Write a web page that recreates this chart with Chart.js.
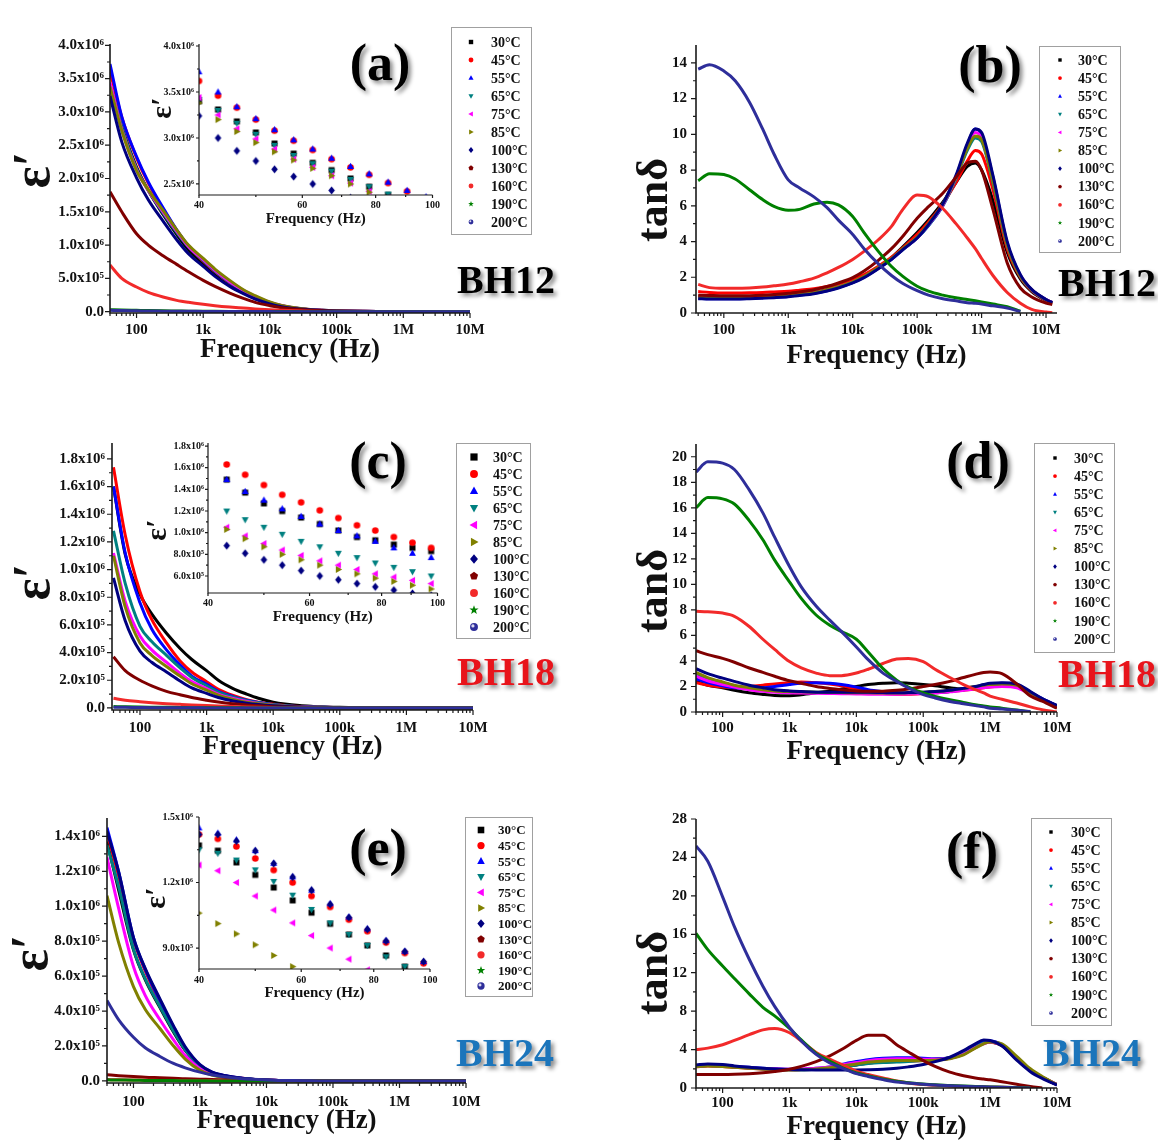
<!DOCTYPE html>
<html><head><meta charset="utf-8">
<script src="https://cdn.jsdelivr.net/npm/chart.js@4.4.1/dist/chart.umd.min.js"></script>
<style>
html,body{margin:0;padding:0;background:#fff;}
#wrap{position:relative;width:1158px;height:1146px;overflow:hidden;background:#fff;font-family:'Liberation Serif','Times New Roman',serif;}
.lbl{position:absolute;transform:translate(-50%,-50%);font-weight:bold;white-space:nowrap;line-height:1;z-index:5;}
canvas{position:absolute;}
</style></head><body><div id="wrap"></div>
<script>
// ---------------- DATA ----------------
const FREQ = [40, 60, 100, 150, 250, 400, 600, 1e3, 1.5e3, 2.5e3, 4e3, 6e3, 1e4, 1.5e4, 2.5e4, 4e4, 6e4, 1e5, 1.5e5, 2.5e5, 4e5, 6e5, 8e5, 1e6, 1.5e6, 2.5e6, 4e6, 6e6, 1e7, 1.25e7];
const FREQ_INSET = [40, 43.1, 46.4, 50, 53.8, 58, 62.5, 67.3, 72.5, 78, 84, 90.5, 97.5];
const TEMPS = ['30°C','45°C','55°C','65°C','75°C','85°C','100°C','130°C','160°C','190°C','200°C'];

const X_TICKS = [100, 1e3, 1e4, 1e5, 1e6, 1e7];
const X_LABELS = ['100','1k','10k','100k','1M','10M'];
const XI_TICKS = [40, 60, 80, 100];
const XI_LABELS = ['40','60','80','100'];
const XI_MINOR = [50, 70, 90];

const A_Y_TICKS = [0, 0.5, 1, 1.5, 2, 2.5, 3, 3.5, 4];
const A_Y_LABELS = ['0.0','5.0x10⁵','1.0x10⁶','1.5x10⁶','2.0x10⁶','2.5x10⁶','3.0x10⁶','3.5x10⁶','4.0x10⁶'];
const B_Y_TICKS = [0, 2, 4, 6, 8, 10, 12, 14];
const B_Y_LABELS = ['0','2','4','6','8','10','12','14'];
const C_Y_TICKS = [0, 0.2, 0.4, 0.6, 0.8, 1.0, 1.2, 1.4, 1.6, 1.8];
const C_Y_LABELS = ['0.0','2.0x10⁵','4.0x10⁵','6.0x10⁵','8.0x10⁵','1.0x10⁶','1.2x10⁶','1.4x10⁶','1.6x10⁶','1.8x10⁶'];
const D_Y_TICKS = [0, 2, 4, 6, 8, 10, 12, 14, 16, 18, 20];
const D_Y_LABELS = ['0','2','4','6','8','10','12','14','16','18','20'];
const E_Y_TICKS = [0, 0.2, 0.4, 0.6, 0.8, 1.0, 1.2, 1.4];
const E_Y_LABELS = ['0.0','2.0x10⁵','4.0x10⁵','6.0x10⁵','8.0x10⁵','1.0x10⁶','1.2x10⁶','1.4x10⁶'];
const F_Y_TICKS = [0, 4, 8, 12, 16, 20, 24, 28];
const F_Y_LABELS = ['0','4','8','12','16','20','24','28'];
const AI_Y_TICKS = [2.5, 3.0, 3.5, 4.0];
const AI_Y_LABELS = ['2.5x10⁶','3.0x10⁶','3.5x10⁶','4.0x10⁶'];
const CI_Y_TICKS = [0.6, 0.8, 1.0, 1.2, 1.4, 1.6, 1.8];
const CI_Y_LABELS = ['6.0x10⁵','8.0x10⁵','1.0x10⁶','1.2x10⁶','1.4x10⁶','1.6x10⁶','1.8x10⁶'];
const EI_Y_TICKS = [0.9, 1.2, 1.5];
const EI_Y_LABELS = ['9.0x10⁵','1.2x10⁶','1.5x10⁶'];

// (a) BH12 epsilon' (units of 10^6), rows follow TEMPS, columns follow FREQ
const A_EPS = [
 [3.40, 2.78, 2.17, 1.82, 1.46, 1.16, 0.93, 0.72, 0.56, 0.40, 0.28, 0.20, 0.12, 0.08, 0.045, 0.028, 0.018, 0.011, 0.007, 0.004, 0.003, 0.002, 0.002, 0.001, 0.001, 0.001, 0, 0, 0, 0],
 [3.62, 2.92, 2.31, 1.93, 1.54, 1.22, 0.98, 0.76, 0.60, 0.43, 0.30, 0.21, 0.13, 0.085, 0.05, 0.03, 0.02, 0.012, 0.008, 0.005, 0.003, 0.002, 0.002, 0.001, 0.001, 0.001, 0, 0, 0, 0],
 [3.72, 2.93, 2.33, 1.95, 1.56, 1.23, 0.99, 0.77, 0.61, 0.44, 0.31, 0.22, 0.135, 0.09, 0.05, 0.03, 0.02, 0.012, 0.008, 0.005, 0.003, 0.002, 0.002, 0.001, 0.001, 0.001, 0, 0, 0, 0],
 [3.42, 2.77, 2.15, 1.82, 1.48, 1.19, 0.97, 0.77, 0.61, 0.44, 0.31, 0.22, 0.135, 0.09, 0.05, 0.03, 0.02, 0.012, 0.008, 0.005, 0.003, 0.002, 0.002, 0.001, 0.001, 0.001, 0, 0, 0, 0],
 [3.44, 2.73, 2.13, 1.82, 1.50, 1.21, 0.98, 0.78, 0.62, 0.45, 0.32, 0.23, 0.14, 0.092, 0.052, 0.031, 0.02, 0.012, 0.008, 0.005, 0.003, 0.002, 0.002, 0.001, 0.001, 0.001, 0, 0, 0, 0],
 [3.38, 2.72, 2.12, 1.83, 1.52, 1.23, 1.00, 0.80, 0.64, 0.47, 0.33, 0.24, 0.145, 0.095, 0.055, 0.033, 0.021, 0.013, 0.008, 0.005, 0.003, 0.002, 0.002, 0.001, 0.001, 0.001, 0, 0, 0, 0],
 [3.24, 2.55, 2.01, 1.68, 1.36, 1.08, 0.87, 0.68, 0.53, 0.38, 0.27, 0.19, 0.115, 0.075, 0.045, 0.027, 0.017, 0.01, 0.007, 0.004, 0.003, 0.002, 0.002, 0.001, 0.001, 0.001, 0, 0, 0, 0],
 [1.80, 1.50, 1.17, 1.00, 0.84, 0.71, 0.60, 0.47, 0.38, 0.28, 0.20, 0.14, 0.09, 0.06, 0.035, 0.02, 0.012, 0.007, 0.005, 0.003, 0.002, 0.001, 0.001, 0.001, 0, 0, 0, 0, 0, 0],
 [0.70, 0.50, 0.37, 0.29, 0.22, 0.17, 0.14, 0.11, 0.09, 0.07, 0.055, 0.042, 0.028, 0.02, 0.012, 0.007, 0.004, 0.002, 0.001, 0.001, 0, 0, 0, 0, 0, 0, 0, 0, 0, 0],
 [0.03, 0.025, 0.02, 0.016, 0.012, 0.01, 0.008, 0.006, 0.005, 0.004, 0.003, 0.002, 0.002, 0.001, 0.001, 0, 0, 0, 0, 0, 0, 0, 0, 0, 0, 0, 0, 0, 0, 0],
 [0.02, 0.016, 0.013, 0.01, 0.008, 0.006, 0.005, 0.004, 0.003, 0.002, 0.002, 0.001, 0.001, 0, 0, 0, 0, 0, 0, 0, 0, 0, 0, 0, 0, 0, 0, 0, 0, 0]
];
// (a) inset, columns follow FREQ_INSET
const A_INSET = [
 [3.40, 3.31, 3.18, 3.06, 2.94, 2.83, 2.73, 2.65, 2.56, 2.47, 2.38, 2.29, 2.20],
 [3.62, 3.46, 3.33, 3.20, 3.08, 2.97, 2.87, 2.77, 2.68, 2.60, 2.51, 2.42, 2.34],
 [3.72, 3.50, 3.34, 3.21, 3.09, 2.98, 2.88, 2.78, 2.69, 2.61, 2.52, 2.43, 2.36],
 [3.42, 3.30, 3.16, 3.04, 2.92, 2.81, 2.72, 2.64, 2.55, 2.47, 2.39, 2.30, 2.22],
 [3.44, 3.25, 3.10, 2.99, 2.88, 2.77, 2.68, 2.59, 2.51, 2.42, 2.35, 2.27, 2.19],
 [3.38, 3.20, 3.07, 2.95, 2.85, 2.76, 2.67, 2.59, 2.50, 2.41, 2.34, 2.26, 2.18],
 [3.24, 3.00, 2.86, 2.75, 2.66, 2.58, 2.50, 2.43, 2.35, 2.28, 2.20, 2.13, 2.06],
 [], [], [], []
];
// (b) BH12 tan delta
const B_TAN = [
 [0.9, 0.88, 0.87, 0.87, 0.88, 0.9, 0.93, 0.98, 1.05, 1.15, 1.3, 1.48, 1.75, 2.05, 2.55, 3.1, 3.7, 4.5, 5.2, 6.2, 7.3, 8.2, 8.4, 8.0, 6.3, 3.4, 1.9, 1.2, 0.7, 0.55],
 [1.2, 1.15, 1.12, 1.12, 1.13, 1.15, 1.18, 1.22, 1.28, 1.36, 1.48, 1.62, 1.88, 2.15, 2.62, 3.12, 3.65, 4.4, 5.1, 6.1, 7.3, 8.5, 9.1, 8.9, 6.9, 3.6, 2.0, 1.25, 0.72, 0.56],
 [0.82, 0.8, 0.8, 0.8, 0.82, 0.85, 0.88, 0.93, 1.0, 1.1, 1.25, 1.42, 1.7, 2.0, 2.5, 3.0, 3.55, 4.2, 4.9, 6.0, 7.6, 9.4, 10.3, 10.0, 7.6, 3.9, 2.1, 1.3, 0.75, 0.58],
 [0.85, 0.82, 0.82, 0.82, 0.84, 0.87, 0.9, 0.95, 1.02, 1.12, 1.27, 1.45, 1.72, 2.02, 2.52, 3.02, 3.55, 4.2, 4.9, 6.0, 7.5, 9.1, 9.8, 9.6, 7.3, 3.8, 2.05, 1.28, 0.74, 0.57],
 [0.85, 0.83, 0.83, 0.83, 0.85, 0.88, 0.91, 0.96, 1.03, 1.13, 1.28, 1.46, 1.73, 2.03, 2.53, 3.03, 3.57, 4.22, 4.95, 6.05, 7.6, 9.3, 10.1, 9.8, 7.5, 3.85, 2.08, 1.3, 0.75, 0.58],
 [0.86, 0.84, 0.84, 0.84, 0.86, 0.89, 0.92, 0.97, 1.04, 1.14, 1.29, 1.47, 1.74, 2.05, 2.55, 3.05, 3.6, 4.25, 5.0, 6.1, 7.6, 9.2, 9.9, 9.7, 7.4, 3.8, 2.05, 1.3, 0.74, 0.57],
 [0.8, 0.78, 0.78, 0.78, 0.8, 0.83, 0.86, 0.91, 0.98, 1.08, 1.23, 1.4, 1.68, 1.98, 2.48, 3.0, 3.55, 4.2, 4.95, 6.1, 7.7, 9.5, 10.3, 10.1, 7.7, 4.0, 2.15, 1.32, 0.76, 0.58],
 [1.0, 0.98, 0.96, 0.96, 0.97, 1.0, 1.04, 1.1, 1.18, 1.3, 1.48, 1.68, 1.98, 2.35, 2.95, 3.6, 4.3, 5.3, 5.95, 6.7, 7.6, 8.4, 8.5, 8.0, 5.8, 2.8, 1.4, 0.9, 0.56, 0.47],
 [1.6, 1.42, 1.38, 1.38, 1.4, 1.45, 1.52, 1.62, 1.75, 1.95, 2.25, 2.55, 3.0, 3.45, 4.1, 4.85, 5.8, 6.6, 6.5, 5.85, 5.0, 4.2, 3.6, 3.05, 2.1, 1.15, 0.55, 0.2, 0.05, 0.02],
 [7.4, 7.8, 7.75, 7.5, 6.9, 6.35, 5.97, 5.75, 5.8, 6.1, 6.2, 6.05, 5.4, 4.5, 3.45, 2.6, 2.05, 1.5, 1.22, 1.0, 0.85, 0.75, 0.68, 0.62, 0.5, 0.35, 0.1, null, null, null],
 [13.65, 13.9, 13.55, 13.0, 11.8, 10.3, 8.9, 7.45, 7.0, 6.5, 5.9, 5.2, 4.4, 3.6, 2.75, 2.1, 1.65, 1.25, 1.0, 0.8, 0.68, 0.58, 0.54, 0.5, 0.4, 0.28, 0.08, null, null, null]
];
// (c) BH18 epsilon' (10^6)
const C_EPS = [
 [1.60, 1.11, 0.82, 0.68, 0.54, 0.43, 0.35, 0.27, 0.20, 0.14, 0.10, 0.07, 0.042, 0.028, 0.017, 0.011, 0.007, 0.004, 0.003, 0.002, 0.001, 0.001, 0.001, 0, 0, 0, 0, 0, 0, 0],
 [1.74, 1.25, 0.84, 0.64, 0.47, 0.34, 0.26, 0.19, 0.135, 0.09, 0.06, 0.042, 0.027, 0.017, 0.01, 0.006, 0.004, 0.003, 0.002, 0.001, 0.001, 0, 0, 0, 0, 0, 0, 0, 0, 0],
 [1.60, 1.12, 0.76, 0.57, 0.42, 0.31, 0.23, 0.17, 0.12, 0.082, 0.056, 0.039, 0.025, 0.016, 0.01, 0.006, 0.004, 0.003, 0.002, 0.001, 0.001, 0, 0, 0, 0, 0, 0, 0, 0, 0],
 [1.28, 0.90, 0.59, 0.48, 0.38, 0.29, 0.22, 0.16, 0.115, 0.078, 0.053, 0.037, 0.023, 0.015, 0.009, 0.006, 0.004, 0.002, 0.002, 0.001, 0.001, 0, 0, 0, 0, 0, 0, 0, 0, 0],
 [1.12, 0.77, 0.52, 0.42, 0.33, 0.25, 0.19, 0.14, 0.10, 0.068, 0.046, 0.032, 0.02, 0.013, 0.008, 0.005, 0.003, 0.002, 0.001, 0.001, 0, 0, 0, 0, 0, 0, 0, 0, 0, 0],
 [1.10, 0.73, 0.47, 0.38, 0.30, 0.23, 0.175, 0.128, 0.092, 0.062, 0.042, 0.03, 0.019, 0.012, 0.007, 0.005, 0.003, 0.002, 0.001, 0.001, 0, 0, 0, 0, 0, 0, 0, 0, 0, 0],
 [0.94, 0.63, 0.41, 0.33, 0.26, 0.195, 0.145, 0.105, 0.075, 0.05, 0.034, 0.024, 0.015, 0.01, 0.006, 0.004, 0.002, 0.001, 0.001, 0, 0, 0, 0, 0, 0, 0, 0, 0, 0, 0],
 [0.37, 0.27, 0.20, 0.16, 0.12, 0.095, 0.075, 0.056, 0.043, 0.03, 0.021, 0.015, 0.009, 0.006, 0.004, 0.002, 0.001, 0.001, 0, 0, 0, 0, 0, 0, 0, 0, 0, 0, 0, 0],
 [0.07, 0.055, 0.045, 0.038, 0.031, 0.026, 0.022, 0.018, 0.014, 0.01, 0.007, 0.005, 0.003, 0.002, 0.001, 0.001, 0, 0, 0, 0, 0, 0, 0, 0, 0, 0, 0, 0, 0, 0],
 [0.01, 0.008, 0.006, 0.005, 0.004, 0.003, 0.002, 0.002, 0.001, 0.001, 0, 0, 0, 0, 0, 0, 0, 0, 0, 0, 0, 0, 0, 0, 0, 0, 0, 0, 0, 0],
 [0.005, 0.004, 0.003, 0.002, 0.002, 0.001, 0.001, 0, 0, 0, 0, 0, 0, 0, 0, 0, 0, 0, 0, 0, 0, 0, 0, 0, 0, 0, 0, 0, 0, 0]
];
const C_INSET = [
 [null, 1.49, 1.37, 1.27, 1.20, 1.14, 1.08, 1.02, 0.96, 0.93, 0.89, 0.86, 0.83],
 [null, 1.63, 1.535, 1.44, 1.35, 1.28, 1.206, 1.135, 1.068, 1.02, 0.96, 0.908, 0.86],
 [null, 1.49, 1.38, 1.30, 1.22, 1.15, 1.08, 1.02, 0.97, 0.92, 0.86, 0.81, 0.77],
 [null, 1.20, 1.12, 1.05, 0.985, 0.92, 0.87, 0.81, 0.77, 0.72, 0.68, 0.64, 0.60],
 [null, 1.05, 0.97, 0.90, 0.84, 0.79, 0.74, 0.70, 0.66, 0.62, 0.59, 0.56, 0.53],
 [null, 1.03, 0.945, 0.87, 0.80, 0.75, 0.70, 0.66, 0.62, 0.58, 0.55, 0.515, 0.48],
 [null, 0.88, 0.81, 0.75, 0.70, 0.65, 0.60, 0.565, 0.53, 0.50, 0.47, 0.44, 0.42],
 [], [], [], []
];
// (d) BH18 tan delta
const D_TAN = [
 [2.4, 2.1, 1.9, 1.7, 1.5, 1.38, 1.3, 1.28, 1.35, 1.5, 1.65, 1.8, 2.0, 2.15, 2.25, 2.3, 2.25, 2.15, 2.05, 1.9, 1.8, 1.85, 1.95, 2.05, 2.2, 2.1, 1.5, 1.0, 0.5, null],
 [2.3, 2.1, 1.95, 1.9, 2.0, 2.1, 2.2, 2.3, 2.35, 2.3, 2.2, 2.05, 1.8, 1.6, 1.45, 1.4, 1.4, 1.45, 1.5, 1.6, 1.7, 1.8, 1.9, 1.95, 2.05, 1.95, 1.45, 1.0, 0.45, null],
 [2.6, 2.3, 2.05, 1.9, 1.85, 1.9, 2.0, 2.15, 2.25, 2.3, 2.25, 2.15, 1.95, 1.75, 1.6, 1.5, 1.45, 1.45, 1.5, 1.6, 1.75, 1.9, 2.0, 2.1, 2.25, 2.15, 1.55, 1.05, 0.5, null],
 [3.0, 2.6, 2.25, 2.0, 1.8, 1.65, 1.6, 1.55, 1.55, 1.55, 1.5, 1.5, 1.5, 1.48, 1.45, 1.45, 1.45, 1.48, 1.52, 1.6, 1.75, 1.9, 2.0, 2.1, 2.2, 2.1, 1.5, 1.0, 0.45, null],
 [2.8, 2.45, 2.15, 1.95, 1.75, 1.62, 1.55, 1.5, 1.48, 1.47, 1.45, 1.43, 1.42, 1.4, 1.4, 1.4, 1.42, 1.45, 1.5, 1.58, 1.7, 1.82, 1.9, 1.95, 2.0, 1.9, 1.4, 0.95, 0.45, null],
 [3.1, 2.7, 2.35, 2.1, 1.9, 1.75, 1.65, 1.6, 1.58, 1.55, 1.53, 1.52, 1.5, 1.5, 1.48, 1.48, 1.5, 1.55, 1.6, 1.7, 1.85, 2.0, 2.1, 2.15, 2.2, 2.1, 1.5, 1.0, 0.45, null],
 [3.4, 3.0, 2.65, 2.4, 2.1, 1.9, 1.75, 1.65, 1.6, 1.55, 1.55, 1.55, 1.55, 1.55, 1.52, 1.5, 1.52, 1.55, 1.6, 1.7, 1.85, 2.0, 2.15, 2.25, 2.3, 2.2, 1.6, 1.05, 0.5, null],
 [4.8, 4.5, 4.2, 3.9, 3.45, 3.1, 2.8, 2.45, 2.25, 2.0, 1.85, 1.75, 1.65, 1.62, 1.63, 1.7, 1.8, 2.0, 2.15, 2.4, 2.7, 2.95, 3.1, 3.13, 3.0, 2.2, 1.25, 0.85, 0.3, null],
 [7.9, 7.85, 7.75, 7.5, 6.7, 5.7, 4.9, 3.95, 3.45, 3.05, 2.85, 2.85, 3.05, 3.35, 3.8, 4.15, 4.2, 3.95, 3.35, 2.7, 2.15, 1.75, 1.5, 1.25, 1.0, 0.7, 0.4, 0.18, 0.0, null],
 [16.0, 16.8, 16.7, 16.3, 15.0, 13.5, 11.9, 10.2, 8.9, 7.6, 6.8, 6.3, 5.7, 4.7, 3.4, 2.5, 1.95, 1.5, 1.22, 0.96, 0.75, 0.57, 0.47, 0.4, 0.3, 0.15, 0.03, null, null, null],
 [18.8, 19.6, 19.5, 19.0, 17.4, 15.6, 13.7, 11.4, 9.8, 8.3, 7.2, 6.3, 5.1, 4.1, 3.05, 2.4, 1.88, 1.36, 1.1, 0.83, 0.65, 0.5, 0.4, 0.3, 0.23, 0.13, 0.03, null, null, null]
];
// (e) BH24 epsilon' (10^6)
const E_EPS = [
 [1.37, 1.09, 0.75, 0.58, 0.42, 0.28, 0.175, 0.083, 0.046, 0.026, 0.015, 0.009, 0.005, 0.003, 0.002, 0.001, 0.001, 0, 0, 0, 0, 0, 0, 0, 0, 0, 0, 0, 0, 0],
 [1.42, 1.17, 0.81, 0.63, 0.45, 0.30, 0.185, 0.088, 0.049, 0.027, 0.016, 0.01, 0.005, 0.003, 0.002, 0.001, 0.001, 0, 0, 0, 0, 0, 0, 0, 0, 0, 0, 0, 0, 0],
 [1.45, 1.195, 0.82, 0.64, 0.46, 0.31, 0.19, 0.09, 0.05, 0.028, 0.016, 0.01, 0.005, 0.003, 0.002, 0.001, 0.001, 0, 0, 0, 0, 0, 0, 0, 0, 0, 0, 0, 0, 0],
 [1.35, 1.11, 0.755, 0.585, 0.425, 0.285, 0.178, 0.085, 0.047, 0.026, 0.015, 0.009, 0.005, 0.003, 0.002, 0.001, 0.001, 0, 0, 0, 0, 0, 0, 0, 0, 0, 0, 0, 0, 0],
 [1.28, 0.986, 0.655, 0.49, 0.35, 0.235, 0.145, 0.07, 0.04, 0.022, 0.013, 0.008, 0.004, 0.003, 0.002, 0.001, 0, 0, 0, 0, 0, 0, 0, 0, 0, 0, 0, 0, 0, 0],
 [1.06, 0.79, 0.54, 0.41, 0.30, 0.20, 0.125, 0.06, 0.034, 0.019, 0.011, 0.007, 0.004, 0.002, 0.001, 0.001, 0, 0, 0, 0, 0, 0, 0, 0, 0, 0, 0, 0, 0, 0],
 [1.43, 1.195, 0.82, 0.645, 0.47, 0.315, 0.195, 0.093, 0.052, 0.029, 0.017, 0.01, 0.005, 0.003, 0.002, 0.001, 0.001, 0, 0, 0, 0, 0, 0, 0, 0, 0, 0, 0, 0, 0],
 [0.035, 0.03, 0.025, 0.021, 0.018, 0.015, 0.012, 0.01, 0.008, 0.006, 0.004, 0.003, 0.002, 0.001, 0.001, 0, 0, 0, 0, 0, 0, 0, 0, 0, 0, 0, 0, 0, 0, 0],
 [0.008, 0.006, 0.005, 0.004, 0.003, 0.002, 0.002, 0.001, 0.001, 0, 0, 0, 0, 0, 0, 0, 0, 0, 0, 0, 0, 0, 0, 0, 0, 0, 0, 0, 0, 0],
 [0.006, 0.005, 0.004, 0.003, 0.002, 0.002, 0.001, 0.001, 0, 0, 0, 0, 0, 0, 0, 0, 0, 0, 0, 0, 0, 0, 0, 0, 0, 0, 0, 0, 0, 0],
 [0.46, 0.35, 0.25, 0.19, 0.14, 0.10, 0.075, 0.05, 0.035, 0.022, 0.014, 0.009, 0.005, 0.003, 0.002, 0.001, 0, 0, 0, 0, 0, 0, 0, 0, 0, 0, 0, 0, 0, 0]
];
const E_INSET = [
 [1.37, 1.346, 1.292, 1.235, 1.177, 1.118, 1.062, 1.011, 0.962, 0.912, 0.866, 0.815, 0.77],
 [1.42, 1.40, 1.365, 1.31, 1.257, 1.20, 1.138, 1.088, 1.03, 0.977, 0.925, 0.877, 0.83],
 [1.45, 1.426, 1.395, 1.346, 1.288, 1.226, 1.165, 1.103, 1.042, 0.988, 0.934, 0.885, 0.838],
 [1.35, 1.334, 1.303, 1.258, 1.205, 1.142, 1.077, 1.015, 0.962, 0.912, 0.86, 0.815, 0.77],
 [1.28, 1.254, 1.20, 1.138, 1.074, 1.015, 0.957, 0.90, 0.849, 0.80, 0.755, 0.712, 0.67],
 [1.06, 1.012, 0.965, 0.915, 0.866, 0.815, 0.77, 0.73, 0.69, 0.65, 0.615, 0.58, 0.55],
 [1.42, 1.42, 1.39, 1.345, 1.287, 1.225, 1.165, 1.10, 1.04, 0.986, 0.932, 0.884, 0.838],
 [], [], [], []
];
// (f) BH24 tan delta
const F_TAN = [
 [2.3, 2.35, 2.3, 2.2, 2.1, 2.0, 1.95, 1.9, 1.9, 1.95, 2.05, 2.2, 2.4, 2.6, 2.75, 2.85, 2.9, 2.95, 3.0, 3.15, 3.6, 4.3, 4.75, 4.8, 4.4, 3.0, 1.8, 1.1, 0.35, null],
 [2.2, 2.3, 2.25, 2.15, 2.05, 1.98, 1.92, 1.9, 1.92, 2.0, 2.1, 2.25, 2.45, 2.6, 2.7, 2.75, 2.8, 2.85, 2.95, 3.1, 3.55, 4.2, 4.65, 4.75, 4.45, 3.1, 1.85, 1.1, 0.35, null],
 [2.3, 2.4, 2.35, 2.25, 2.15, 2.05, 2.0, 1.95, 1.95, 2.05, 2.2, 2.45, 2.75, 2.95, 3.1, 3.15, 3.15, 3.1, 3.05, 3.15, 3.6, 4.3, 4.8, 4.9, 4.5, 3.1, 1.85, 1.1, 0.35, null],
 [2.25, 2.35, 2.3, 2.2, 2.1, 2.0, 1.95, 1.9, 1.9, 1.95, 2.05, 2.2, 2.4, 2.55, 2.65, 2.7, 2.75, 2.85, 2.95, 3.1, 3.55, 4.25, 4.7, 4.8, 4.5, 3.1, 1.85, 1.1, 0.35, null],
 [2.3, 2.35, 2.3, 2.2, 2.1, 2.02, 1.98, 1.95, 1.98, 2.05, 2.2, 2.4, 2.65, 2.85, 3.0, 3.05, 3.05, 3.0, 3.0, 3.1, 3.5, 4.2, 4.6, 4.75, 4.5, 3.2, 1.9, 1.15, 0.35, null],
 [2.25, 2.3, 2.25, 2.15, 2.05, 1.98, 1.93, 1.9, 1.92, 1.98, 2.1, 2.3, 2.5, 2.7, 2.8, 2.85, 2.85, 2.85, 2.9, 3.05, 3.45, 4.15, 4.6, 4.8, 4.6, 3.3, 2.0, 1.2, 0.35, null],
 [2.4, 2.5, 2.45, 2.3, 2.15, 2.05, 1.98, 1.92, 1.9, 1.88, 1.87, 1.87, 1.88, 1.9, 1.95, 2.05, 2.2, 2.45, 2.75, 3.2, 3.9, 4.6, 5.0, 4.95, 4.4, 2.9, 1.7, 1.0, 0.3, null],
 [1.4, 1.4, 1.4, 1.42, 1.48, 1.58, 1.72, 1.95, 2.25, 2.75, 3.35, 4.0, 4.95, 5.5, 5.5, 4.5, 3.75, 2.85, 2.25, 1.65, 1.28, 1.05, 0.93, 0.85, 0.65, 0.4, 0.15, 0.0, null, null],
 [4.0, 4.15, 4.5, 4.95, 5.55, 6.05, 6.2, 5.75, 4.9, 3.7, 3.0, 2.45, 1.75, 1.4, 1.05, 0.72, 0.53, 0.36, 0.28, 0.2, 0.15, 0.12, 0.1, 0.09, 0.07, 0.03, 0, null, null, null],
 [16.1, 14.4, 12.7, 11.4, 9.8, 8.4, 7.5, 6.2, 5.0, 3.6, 2.8, 2.15, 1.56, 1.28, 0.94, 0.7, 0.55, 0.42, 0.34, 0.27, 0.2, 0.16, 0.13, 0.11, 0.08, 0.04, 0.0, null, null, null],
 [25.2, 23.6, 19.9, 16.8, 13.4, 10.6, 8.5, 6.3, 4.9, 3.5, 2.6, 2.1, 1.5, 1.2, 0.87, 0.62, 0.52, 0.38, 0.3, 0.24, 0.18, 0.14, 0.12, 0.1, 0.07, 0.03, 0.0, null, null, null]
];

// ---------------- STYLES ----------------
const COLORS = ['#000000','#ff0000','#0000ff','#008080','#ff00ff','#808000','#000080','#800000','#f22a2a','#008000','#2e2e9a'];
const MARKERS = [['rect',0],['circle',0],['triangle',0],['triangle',180],['triangle',270],['triangle',90],['diamond',0],['pentagon',0],['circle',0],['star',0],['half',0]];
const FONT = "'Liberation Serif','Times New Roman',serif";

function drawMarker(ctx, style, rot, r, x, y, color) {
  ctx.save();
  ctx.translate(x, y);
  ctx.rotate(rot * Math.PI / 180);
  ctx.fillStyle = color;
  ctx.beginPath();
  if (style === 'rect') { ctx.rect(-r, -r, 2 * r, 2 * r); }
  else if (style === 'circle' || style === 'half') { ctx.arc(0, 0, r * 1.1, 0, Math.PI * 2); }
  else if (style === 'triangle') { ctx.moveTo(0, -r * 1.25); ctx.lineTo(r * 1.15, r * 0.85); ctx.lineTo(-r * 1.15, r * 0.85); ctx.closePath(); }
  else if (style === 'diamond') { ctx.moveTo(0, -r * 1.35); ctx.lineTo(r * 1.1, 0); ctx.lineTo(0, r * 1.35); ctx.lineTo(-r * 1.1, 0); ctx.closePath(); }
  else if (style === 'pentagon') { for (let k = 0; k < 5; k++) { const a = -Math.PI / 2 + k * 2 * Math.PI / 5; const px = Math.cos(a) * r * 1.2, py = Math.sin(a) * r * 1.2; if (k) ctx.lineTo(px, py); else ctx.moveTo(px, py); } ctx.closePath(); }
  else if (style === 'star') { for (let k = 0; k < 10; k++) { const a = -Math.PI / 2 + k * Math.PI / 5; const rr = (k % 2 ? 0.55 : 1.35) * r; const px = Math.cos(a) * rr, py = Math.sin(a) * rr; if (k) ctx.lineTo(px, py); else ctx.moveTo(px, py); } ctx.closePath(); }
  ctx.fill();
  if (style === 'half') { ctx.fillStyle = '#d8d8f0'; ctx.beginPath(); ctx.arc(-r * 0.3, -r * 0.3, r * 0.45, 0, Math.PI * 2); ctx.fill(); }
  ctx.restore();
}
function markerCanvas(i, r) {
  const s = Math.ceil(r * 3 + 4);
  const c = document.createElement('canvas');
  c.width = s; c.height = s;
  drawMarker(c.getContext('2d'), MARKERS[i][0], MARKERS[i][1], r, s / 2, s / 2, COLORS[i]);
  return c;
}

function axesPlugin(cfg, bx, by) {
  return {
    id: 'originAxes',
    afterDatasetsDraw(chart) {
      const {ctx, chartArea: a} = chart;
      const xs = chart.scales.x, ys = chart.scales.y;
      ctx.save();
      ctx.strokeStyle = '#1a1a1a';
      ctx.lineWidth = cfg.axw || 1.6;
      ctx.beginPath();
      ctx.moveTo(a.left, a.top); ctx.lineTo(a.left, a.bottom); ctx.lineTo(a.right, a.bottom);
      ctx.stroke();
      ctx.lineWidth = 1.2;
      ctx.beginPath();
      const L = cfg.tl || 5, ML = cfg.mtl || 3;
      const xt = (v, len) => { const p = xs.getPixelForValue(v); if (p >= a.left - 0.5 && p <= a.right + 0.5) { ctx.moveTo(p, a.bottom); ctx.lineTo(p, a.bottom + len); } };
      const yt = (v, len) => { const p = ys.getPixelForValue(v); if (p >= a.top - 0.5 && p <= a.bottom + 0.5) { ctx.moveTo(a.left, p); ctx.lineTo(a.left - len, p); } };
      cfg.xTicks.forEach(v => xt(v, L));
      cfg.xMinor.forEach(v => xt(v, ML));
      cfg.yTicks.forEach(v => yt(v, L));
      for (let k = 0; k < cfg.yTicks.length - 1; k++) yt((cfg.yTicks[k] + cfg.yTicks[k + 1]) / 2, ML);
      ctx.stroke();
      // y axis title (rotated)
      ctx.translate(cfg.yTitleX - bx, cfg.yTitleY - by);
      ctx.rotate(-Math.PI / 2);
      ctx.fillStyle = '#111';
      ctx.font = 'bold ' + cfg.yTitleSize + 'px ' + FONT;
      ctx.textAlign = 'center'; ctx.textBaseline = 'middle';
      ctx.fillText(cfg.yTitle, 0, 0);
      ctx.restore();
    }
  };
}
function legendPlugin(lg, bx, by) {
  return {
    id: 'boxLegend',
    afterDraw(chart) {
      const ctx = chart.ctx;
      ctx.save();
      ctx.fillStyle = '#fff';
      ctx.fillRect(lg.x - bx, lg.y - by, lg.w, lg.h);
      ctx.strokeStyle = '#a0a0a0'; ctx.lineWidth = 1;
      ctx.strokeRect(lg.x - bx + 0.5, lg.y - by + 0.5, lg.w, lg.h);
      ctx.font = 'bold ' + lg.font + 'px ' + FONT;
      ctx.textBaseline = 'middle'; ctx.textAlign = 'left';
      chart.data.datasets.forEach((ds, i) => {
        const cy = lg.y0 - by + i * lg.dy;
        drawMarker(ctx, MARKERS[i][0], MARKERS[i][1], lg.r, lg.mx - bx, cy, COLORS[i]);
        ctx.fillStyle = '#111';
        ctx.fillText(ds.label, lg.tx - bx, cy + 1);
      });
      ctx.restore();
    }
  };
}

function minorLog(min, max) {
  const out = [];
  for (let e = 1; e <= 7; e++) for (let k = 2; k <= 9; k++) { const v = k * Math.pow(10, e); if (v >= min && v <= max) out.push(v); }
  return out;
}

function build(cfg) {
  const [bx, by, bw, bh] = cfg.box;
  const [al, at, ar, ab] = cfg.area;
  const cv = document.createElement('canvas');
  cv.width = bw; cv.height = bh;
  cv.style.left = bx + 'px'; cv.style.top = by + 'px';
  cv.style.width = bw + 'px'; cv.style.height = bh + 'px';
  cv.style.zIndex = cfg.z || 1;
  document.getElementById('wrap').appendChild(cv);
  const Wy = al - bx, Hx = (by + bh) - ab;
  const freq = cfg.inset ? FREQ_INSET : FREQ;
  const datasets = cfg.data.map((row, i) => {
    const ds = {
      label: TEMPS[i],
      data: freq.map((f, j) => ({x: f, y: (row[j] === undefined ? null : row[j])})),
      borderColor: COLORS[i], backgroundColor: COLORS[i],
      order: 20 - i
    };
    if (cfg.inset) {
      Object.assign(ds, {showLine: false, pointStyle: markerCanvas(i, cfg.r), pointRadius: cfg.r, borderWidth: 0});
    } else {
      Object.assign(ds, {showLine: true, pointRadius: 0, borderWidth: cfg.lw || 3, cubicInterpolationMode: 'monotone', spanGaps: false});
    }
    return ds;
  });
  const plugins = [axesPlugin(cfg, bx, by)];
  if (cfg.legend) plugins.push(legendPlugin(cfg.legend, bx, by));
  new Chart(cv, {
    type: 'line',
    data: {datasets},
    plugins,
    options: {
      responsive: false, animation: false, devicePixelRatio: 1,
      events: [],
      layout: {autoPadding: false, padding: {left: 0, top: at - by, right: (bx + bw) - ar, bottom: 0}},
      plugins: {legend: {display: false}, tooltip: {enabled: false}},
      scales: {
        x: {
          type: 'logarithmic', position: 'bottom', min: cfg.xmin, max: cfg.xmax, bounds: 'data',
          afterFit: s => { s.height = Hx; },
          afterBuildTicks: s => { s.ticks = cfg.xTicks.map(v => ({value: v})); },
          grid: {display: false, drawTicks: false, tickLength: 0},
          border: {display: false},
          ticks: {autoSkip: false, maxRotation: 0, minRotation: 0, color: '#111',
            padding: cfg.xLabelY - ab - cfg.xFont / 2,
            font: {family: FONT, size: cfg.xFont, weight: 'bold', lineHeight: 1},
            callback: (v, i) => cfg.xLabels[i]},
          title: {display: true, text: 'Frequency (Hz)', color: '#111',
            font: {family: FONT, size: cfg.xTitleSize, weight: 'bold', lineHeight: 1},
            padding: {top: 0, bottom: (by + bh) - cfg.xTitleY - cfg.xTitleSize / 2}}
        },
        y: {
          type: 'linear', position: 'left', min: cfg.ymin, max: cfg.ymax, bounds: 'data',
          afterFit: s => { s.width = Wy; },
          afterBuildTicks: s => { s.ticks = cfg.yTicks.map(v => ({value: v})); },
          grid: {display: false, drawTicks: false, tickLength: 0},
          border: {display: false},
          ticks: {autoSkip: false, color: '#111',
            padding: al - cfg.yLabelRight,
            font: {family: FONT, size: cfg.yFont, weight: 'bold', lineHeight: 1},
            callback: (v, i) => cfg.yLabels[i]},
          title: {display: false}
        }
      }
    }
  });
}

const MAIN_MINOR = minorLog(30, 2e7);
const PANELS = [
  {box: [0, 0, 580, 380], area: [110, 44, 470, 313], xmin: 40, xmax: 1e7, ymin: -0.02, ymax: 4.02, data: A_EPS,
   yTicks: A_Y_TICKS, yLabels: A_Y_LABELS, yLabelRight: 104, yFont: 15, yTitle: 'ε′', yTitleX: 36, yTitleY: 170, yTitleSize: 52,
   legend: {x: 451, y: 27, w: 80, h: 207, y0: 42, dy: 18, mx: 471, tx: 491, font: 14, r: 2.2}},
  {box: [580, 0, 578, 380], area: [696, 45, 1057, 313], xmin: 37, xmax: 1.48e7, ymin: 0, ymax: 15, data: B_TAN,
   yTicks: B_Y_TICKS, yLabels: B_Y_LABELS, yLabelRight: 687, yFont: 15, yTitle: 'tanδ', yTitleX: 656, yTitleY: 200, yTitleSize: 44,
   legend: {x: 1039, y: 46, w: 81, h: 206, y0: 60, dy: 18.1, mx: 1060, tx: 1078, font: 14, r: 1.7}},
  {box: [0, 380, 580, 390], area: [112, 443, 473, 710], xmin: 38, xmax: 1e7, ymin: -0.015, ymax: 1.915, data: C_EPS,
   yTicks: C_Y_TICKS, yLabels: C_Y_LABELS, yLabelRight: 105, yFont: 15, yTitle: 'ε′', yTitleX: 36, yTitleY: 582, yTitleSize: 52,
   legend: {x: 456, y: 443, w: 74, h: 195, y0: 457, dy: 17, mx: 474, tx: 493, font: 14, r: 3.6}},
  {box: [580, 380, 578, 390], area: [696, 444, 1057, 712], xmin: 40, xmax: 1e7, ymin: 0, ymax: 21, data: D_TAN,
   yTicks: D_Y_TICKS, yLabels: D_Y_LABELS, yLabelRight: 687, yFont: 15, yTitle: 'tanδ', yTitleX: 656, yTitleY: 591, yTitleSize: 44,
   legend: {x: 1034, y: 443, w: 80, h: 209, y0: 458, dy: 18.1, mx: 1055, tx: 1074, font: 14, r: 1.7}},
  {box: [0, 770, 580, 376], area: [107, 818, 466, 1083], xmin: 40, xmax: 1e7, ymin: -0.012, ymax: 1.505, data: E_EPS,
   yTicks: E_Y_TICKS, yLabels: E_Y_LABELS, yLabelRight: 100, yFont: 15, yTitle: 'ε′', yTitleX: 34, yTitleY: 953, yTitleSize: 52,
   legend: {x: 465, y: 817, w: 67, h: 179, y0: 830, dy: 15.6, mx: 481, tx: 498, font: 13, r: 3.3}},
  {box: [580, 770, 578, 376], area: [696, 819, 1057, 1088], xmin: 40, xmax: 1e7, ymin: 0, ymax: 28, data: F_TAN,
   yTicks: F_Y_TICKS, yLabels: F_Y_LABELS, yLabelRight: 687, yFont: 15, yTitle: 'tanδ', yTitleX: 656, yTitleY: 973, yTitleSize: 44,
   legend: {x: 1031, y: 818, w: 80, h: 207, y0: 832, dy: 18.1, mx: 1051, tx: 1071, font: 14, r: 1.7}}
];
const XY = [[330, 350], [330, 356], [728, 747], [728, 752], [1102, 1121], [1103, 1127]];
PANELS.forEach((p, k) => {
  Object.assign(p, {xTicks: X_TICKS, xLabels: X_LABELS, xMinor: MAIN_MINOR, xFont: 15, xLabelY: XY[k][0], xTitleY: XY[k][1], xTitleSize: 27, z: 1});
  build(p);
});

const INSETS = [
  {box: [140, 30, 305, 202], area: [199, 44, 433, 195], ymin: 2.38, ymax: 4.022, data: A_INSET,
   yTicks: AI_Y_TICKS, yLabels: AI_Y_LABELS, yLabelRight: 194, xLabelY: 205, xTitleY: 219, yTitleX: 163, yTitleY: 108},
  {box: [140, 430, 310, 200], area: [208, 443, 443, 593], ymin: 0.443, ymax: 1.828, data: C_INSET,
   yTicks: CI_Y_TICKS, yLabels: CI_Y_LABELS, yLabelRight: 204, xLabelY: 603, xTitleY: 617, yTitleX: 158, yTitleY: 530},
  {box: [140, 805, 305, 200], area: [199, 817, 430, 969], ymin: 0.804, ymax: 1.5, data: E_INSET,
   yTicks: EI_Y_TICKS, yLabels: EI_Y_LABELS, yLabelRight: 193, xLabelY: 980, xTitleY: 993, yTitleX: 157, yTitleY: 898}
];
INSETS.forEach(p => {
  Object.assign(p, {inset: true, r: 3, xmin: 40, xmax: 100, xTicks: XI_TICKS, xLabels: XI_LABELS, xMinor: XI_MINOR,
    xFont: 10, yFont: 10, xTitleSize: 15, yTitle: 'ε′', yTitleSize: 30, z: 2, tl: 3, mtl: 2, axw: 1.2});
  build(p);
});

// panel letters and sample names
const TEXTS = [
  ['(a)', 380, 63, 52, '#000'], ['(b)', 990, 65, 52, '#000'], ['(c)', 378, 461, 52, '#000'],
  ['(d)', 978, 461, 52, '#000'], ['(e)', 378, 848, 52, '#000'], ['(f)', 972, 851, 52, '#000'],
  ['BH12', 506, 280, 40, '#000'], ['BH12', 1107, 283, 40, '#000'],
  ['BH18', 506, 672, 40, '#e8141b'], ['BH18', 1107, 674, 40, '#e8141b'],
  ['BH24', 505, 1053, 40, '#1b75bb'], ['BH24', 1092, 1053, 40, '#1b75bb']
];
TEXTS.forEach(([t, x, y, s, c]) => {
  const d = document.createElement('div');
  d.className = 'lbl';
  d.textContent = t;
  d.style.left = x + 'px'; d.style.top = y + 'px';
  d.style.fontSize = s + 'px'; d.style.color = c;
  d.style.textShadow = '3px 3px 4px rgba(0,0,0,0.45)';
  document.getElementById('wrap').appendChild(d);
});
</script></body></html>
